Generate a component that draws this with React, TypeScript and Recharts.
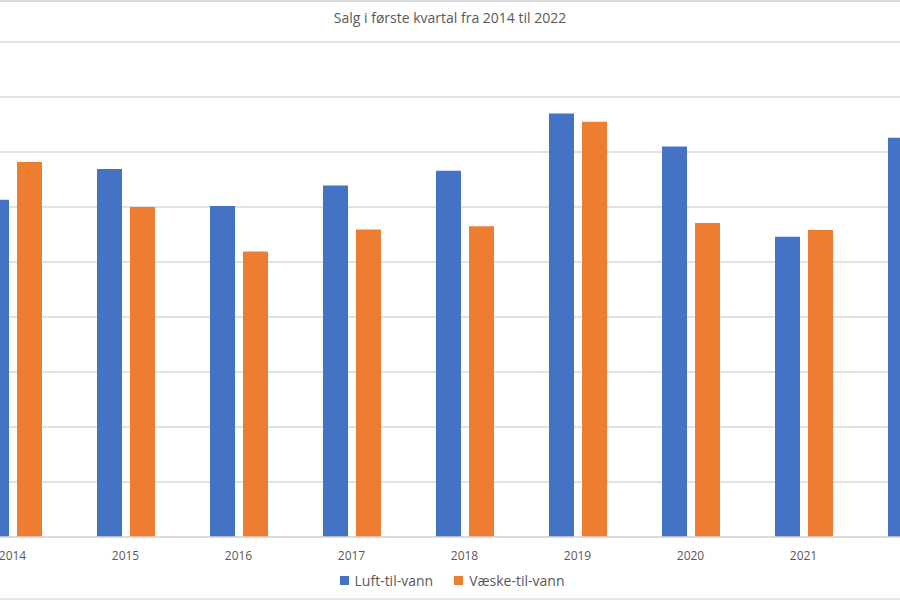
import React from 'react';
import { BarChart, Bar, XAxis, YAxis, CartesianGrid, Legend } from 'recharts';

const years = ['2014', '2015', '2016', '2017', '2018', '2019', '2020', '2021', '2022'];
const luftTilVann = [6130, 6690, 6020, 6390, 6660, 7700, 7100, 5460, 7260];
const vaskeTilVann = [6820, 6000, 5190, 5590, 5650, 7550, 5710, 5580, 6100];
const yTicks = [0, 1000, 2000, 3000, 4000, 5000, 6000, 7000, 8000, 9000];

const seriesNames = ['Luft-til-vann', 'Væske-til-vann'];
const colors = ['#4472C4', '#ED7D31'];

const data = years.map((y, i) => ({
  year: y,
  luft: luftTilVann[i],
  vaske: vaskeTilVann[i],
}));

const FONT = '"Open Sans", "Noto Sans", sans-serif';
const TEXT = '#595959';

const renderLegend = (props: any) => {
  const payload = props.payload || [];
  return (
    <div
      style={{
        display: 'flex', justifyContent: 'center', alignItems: 'center', height: 27,
        paddingRight: 24, boxSizing: 'border-box',
        fontFamily: FONT, fontSize: 14, color: TEXT,
      }}
    >
      {payload.map((p: any, i: number) => (
        <div key={i} style={{ display: 'flex', alignItems: 'center', marginLeft: i === 0 ? 0 : 21 }}>
          <span style={{ display: 'inline-block', width: 9, height: 9, background: p.color, marginRight: 6 }} />
          <span>{p.value}</span>
        </div>
      ))}
    </div>
  );
};

export default function App() {
  return (
    <div style={{ position: 'absolute', left: 0, top: 0, width: 900, height: 600, overflow: 'hidden', background: '#fff' }}>
      <div style={{ position: 'absolute', left: 0, top: 0, width: 900, height: 1.5, background: '#d9d9d9' }} />
      <div style={{ position: 'absolute', left: 0, top: 598, width: 900, height: 2, background: '#e6e6e6' }} />
      <div
        style={{
          position: 'absolute', left: 0, top: 8, width: 900, height: 20, lineHeight: '20px',
          textAlign: 'center', fontFamily: FONT, fontSize: 14, color: TEXT,
        }}
      >
        Salg i første kvartal fra 2014 til 2022
      </div>
      <div style={{ position: 'absolute', left: -72.5, top: 0 }}>
        <BarChart
          width={1045}
          height={600}
          data={data}
          margin={{ top: 42, right: 0, bottom: 0, left: 28 }}
          barSize={25}
          barGap={8}
        >
          <CartesianGrid vertical={false} stroke="#d9d9d9" strokeWidth={1.5} />
          <XAxis
            dataKey="year"
            height={30}
            tickLine={false}
            tickMargin={8}
            axisLine={{ stroke: '#d9d9d9', strokeWidth: 1.5 }}
            tick={{ fill: TEXT, fontSize: 12, fontFamily: FONT }}
            interval={0}
          />
          <YAxis hide domain={[0, 9000]} ticks={yTicks} />
          <Legend verticalAlign="bottom" height={33} content={renderLegend} />
          <Bar dataKey="luft" name={seriesNames[0]} fill={colors[0]} isAnimationActive={false} />
          <Bar dataKey="vaske" name={seriesNames[1]} fill={colors[1]} isAnimationActive={false} />
        </BarChart>
      </div>
    </div>
  );
}
